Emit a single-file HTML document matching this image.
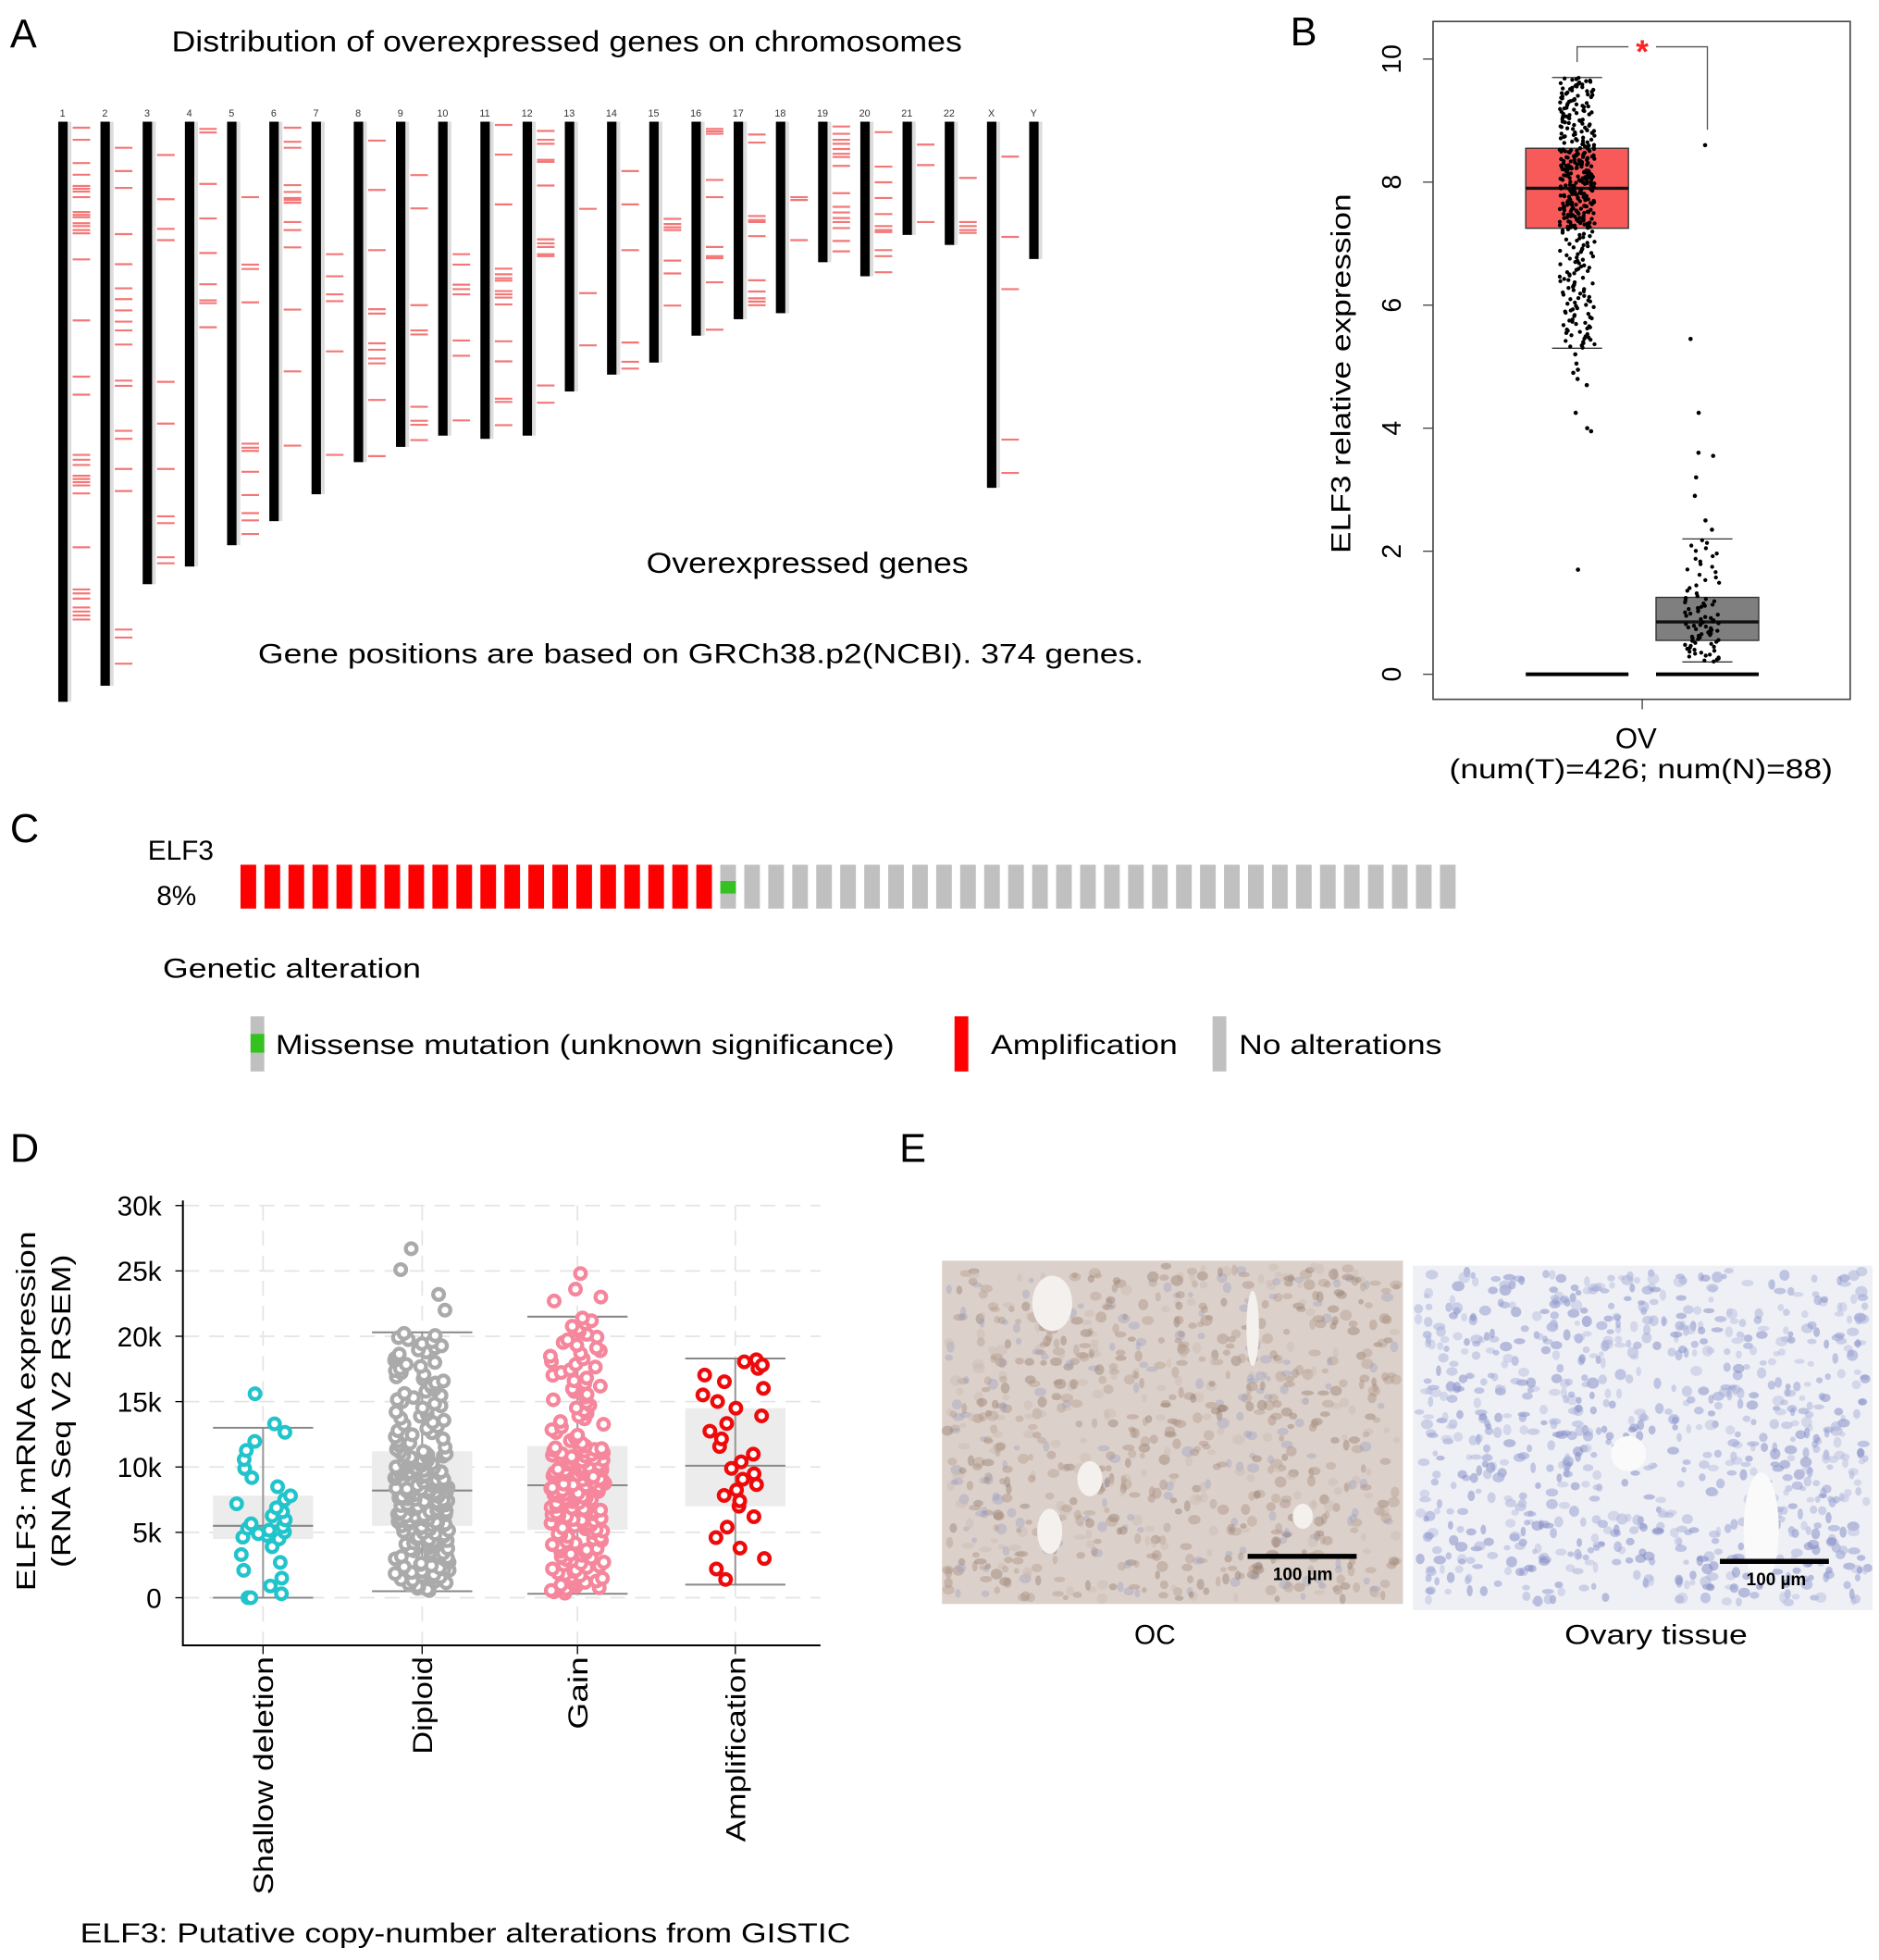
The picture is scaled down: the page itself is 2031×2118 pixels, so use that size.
<!DOCTYPE html>
<html><head><meta charset="utf-8"><style>
html,body{margin:0;padding:0;background:#fff;}
svg{display:block;font-family:"Liberation Sans",Arial,sans-serif;}
</style></head><body>
<svg id="fig" width="2031" height="2118" viewBox="0 0 1500 1564" xmlns="http://www.w3.org/2000/svg">
<g id="panelA">
<text x="8" y="38" font-size="32">A</text>
<text x="137" y="41" font-size="23" textLength="631" lengthAdjust="spacingAndGlyphs">Distribution of  overexpressed genes on chromosomes</text>
<text x="516" y="457" font-size="23" textLength="257" lengthAdjust="spacingAndGlyphs">Overexpressed genes</text>
<text x="206" y="529" font-size="22" textLength="707" lengthAdjust="spacingAndGlyphs">Gene positions are based on GRCh38.p2(NCBI). 374 genes.</text>
</g>
<g id="panelB">
<text x="1030" y="36" font-size="32">B</text>
<rect x="1144" y="17" width="333" height="541" fill="none" stroke="#444" stroke-width="1.2"/>
<text transform="translate(1078,298) rotate(-90)" text-anchor="middle" font-size="22" textLength="287" lengthAdjust="spacingAndGlyphs">ELF3 relative expression</text>
<text x="1306" y="597" text-anchor="middle" font-size="23">OV</text>
<text x="1310" y="621" text-anchor="middle" font-size="22" textLength="306" lengthAdjust="spacingAndGlyphs">(num(T)=426; num(N)=88)</text>
</g>
<g id="panelC">
<text x="8" y="672" font-size="32">C</text>
<text x="118" y="686" font-size="22">ELF3</text>
<text x="125" y="722" font-size="22">8%</text>
<text x="130" y="780" font-size="22" textLength="206" lengthAdjust="spacingAndGlyphs">Genetic alteration</text>
<g>
<rect x="200" y="811" width="11" height="44" fill="#c0c0c0"/><rect x="200" y="825" width="11" height="15" fill="#35c221"/>
<text x="220" y="841" font-size="22" textLength="494" lengthAdjust="spacingAndGlyphs">Missense mutation (unknown significance)</text></g>
<g>
<rect x="762" y="811" width="11" height="44" fill="#ff0000"/>
<text x="791" y="841" font-size="22" textLength="149" lengthAdjust="spacingAndGlyphs">Amplification</text></g>
<g>
<rect x="968" y="811" width="11" height="44" fill="#c0c0c0"/>
<text x="989" y="841" font-size="22" textLength="162" lengthAdjust="spacingAndGlyphs">No alterations</text></g>
</g>
<g id="panelD">
<text x="8" y="927" font-size="32">D</text>
<text transform="translate(28,1126) rotate(-90)" text-anchor="middle" font-size="21" textLength="287" lengthAdjust="spacingAndGlyphs">ELF3: mRNA expression</text>
<text transform="translate(56,1126) rotate(-90)" text-anchor="middle" font-size="21" textLength="250" lengthAdjust="spacingAndGlyphs">(RNA Seq V2 RSEM)</text>
<text x="64" y="1550" font-size="22" textLength="615" lengthAdjust="spacingAndGlyphs">ELF3: Putative copy-number alterations from GISTIC</text>
</g>
<g id="panelE">
<text x="718" y="927" font-size="32">E</text>
<text x="922" y="1312" text-anchor="middle" font-size="22">OC</text>
<text x="1322" y="1312" text-anchor="middle" font-size="22" textLength="146" lengthAdjust="spacingAndGlyphs">Ovary tissue</text>
</g>
</svg>
<script>
// ---------- Panel A data ----------
const chromNames = ["1","2","3","4","5","6","7","8","9","10","11","12","13","14","15","16","17","18","19","20","21","22","X","Y"];
const chromEnds = [1515,1475,1222,1178,1125,1065,998,918,880,852,860,852,742,700,670,603,562,547,420,455,352,377,982,412];
const geneLoci = [
[85,115,173,202,230,237,244,258,295,302,308,323,330,340,348,413,565,705,750,900,912,925,952,960,968,976,996,1130,1235,1245,1258,1280,1290,1300,1310],
[135,193,235,350,425,485,512,540,568,590,625,715,728,840,860,935,990,1335,1355,1420],
[153,263,337,365,718,822,935,1053,1070,1155,1170],
[88,97,225,311,397,475,515,522,582],
[258,426,437,520,872,882,890,942,1000,1045,1063,1097],
[85,120,135,228,245,260,265,272,320,340,383,538,692,877],
[400,455,500,517,642,900],
[117,240,390,537,548,622,638,660,672,763,903],
[203,286,527,590,600,780,815,825,863],
[400,426,476,487,500,615,653,814],
[78,152,276,436,450,460,466,492,500,508,525,617,667,760,768,826],
[93,115,125,165,170,229,363,373,382,400,405,727,770],
[287,497,627],
[193,276,390,620,668,685],
[312,325,333,340,416,448,528],
[88,94,100,215,258,382,405,410,470,588],
[102,122,305,315,320,355,465,493,510,518,527],
[258,265,365],
[82,100,115,125,138,150,158,180,248,282,296,310,320,335,367,393],
[96,182,221,260,300,330,340,345,390,405,445],
[127,178,320],
[210,320,330,340,347],
[157,357,487,862,945],
[]
];
// ---------- Panel B data ----------
const bGroups = ["Tumor","Normal"];
const bQ1 = [7.25, 0.55];
const bMed = [7.9, 0.85];
const bQ3 = [8.55, 1.25];
const bLo = [5.3, 0.2];
const bHi = [9.7, 2.2];
const bN = [426, 88];
const bOutliers = [[4.9,4.8,4.7,4.95,4.25,4.0,3.95,1.7,5.2,5.05],[8.6,5.45,4.25,3.6,3.55,3.2,2.9,2.5,2.35]];
const bTicks = [0,2,4,6,8,10];
// ---------- Panel C data ----------
const cAlterations = ["amp","amp","amp","amp","amp","amp","amp","amp","amp","amp","amp","amp","amp","amp","amp","amp","amp","amp","amp","amp","mut"].concat(Array(30).fill("none"));
// ---------- Panel D data ----------
const dCats = ["Shallow deletion","Diploid","Gain","Amplification"];
const dQ1 = [4500, 5500, 5200, 7000];
const dMed = [5500, 8200, 8600, 10100];
const dQ3 = [7800, 11200, 11600, 14500];
const dLo = [0, 500, 300, 1000];
const dHi = [13000, 20300, 21500, 18300];
const dN = [30, 230, 190, 30];
const dExtra = [[15600,13300,0,0],[26700,25100,23200,22000],[24800,23600,22700,23000],[18200,17800]];
const dTicks = [0,5000,10000,15000,20000,25000,30000];
const dTickLabels = ["0","5k","10k","15k","20k","25k","30k"];

const NS="http://www.w3.org/2000/svg";
const svg=document.getElementById('fig');
function mk(tag,attrs,parent){const e=document.createElementNS(NS,tag);for(const k in attrs)e.setAttribute(k,attrs[k]);(parent||svg).appendChild(e);return e;}
let seed=12345;function rnd(){seed=(seed*1103515245+12345)%2147483648;return seed/2147483648;}
function quant(q,p){const ps=[0,0.25,0.5,0.75,1];for(let i=0;i<4;i++){if(p<=ps[i+1]){const t=(p-ps[i])/0.25;return q[i]+(q[i+1]-q[i])*t;}}return q[4];}

// ---- Panel A draw ----
const gA=document.getElementById('panelA');
const chrX=i=>50+i*33.7;
const posY=v=>97+(v-70)*0.3204;
chromNames.forEach((n,i)=>{
  const x=chrX(i);
  const t=mk('text',{x:x,y:93,'font-size':8,'text-anchor':'middle',fill:'#333'},gA);t.textContent=n;
  
  
  const sh=mk('rect',{x:x+3,y:posY(70),width:4,height:posY(chromEnds[i])-posY(70),fill:'#ddd'},gA);
  
  
  const r=mk('rect',{x:x-3.5,y:posY(70),width:7.5,height:posY(chromEnds[i])-posY(70),fill:'#000'},gA);
  
  
  geneLoci[i].forEach(v=>{
    const l=mk('line',{x1:x+8,x2:x+22,y1:posY(v),y2:posY(v),stroke:'#f04a4a','stroke-width':1.6,opacity:0.75},gA);
    
    
  });
});

// ---- Panel B draw ----
const gB=document.getElementById('panelB');
const yB=v=>538-v*49.1;
const bCx=[1259,1363];
bTicks.forEach(v=>{
  const l=mk('line',{x1:1136,x2:1144,y1:yB(v),y2:yB(v),stroke:'#444'},gB);
  
  
  const t=mk('text',{transform:`translate(1118,${yB(v)}) rotate(-90)`,'text-anchor':'middle','font-size':21},gB);t.textContent=v;
  
  
});
mk('line',{x1:1311,x2:1311,y1:558,y2:566,stroke:'#444'},gB);
bGroups.forEach((g,i)=>{
  const cx=bCx[i],hw=41;
  const fill=i==0?'#f85a5a':'#7f7f7f';
  const z=mk('line',{x1:cx-41,x2:cx+41,y1:yB(0),y2:yB(0),stroke:'#000','stroke-width':3},gB);
  
  
  const b=mk('rect',{x:cx-hw,y:yB(bQ3[i]),width:hw*2,height:yB(bQ1[i])-yB(bQ3[i]),fill:fill,stroke:'#333','stroke-width':1},gB);
  
  
  const m=mk('line',{x1:cx-hw,x2:cx+hw,y1:yB(bMed[i]),y2:yB(bMed[i]),stroke:'#111','stroke-width':2.5},gB);
  
  
  [bLo[i],bHi[i]].forEach(v=>{
    const w=mk('line',{x1:cx-20,x2:cx+20,y1:yB(v),y2:yB(v),stroke:'#333','stroke-width':1},gB);
    
    
  });
  const jx=i==0?cx:cx-4;
  const q=[bLo[i],bQ1[i],bMed[i],bQ3[i],bHi[i]];
  for(let k=0;k<bN[i];k++){
    const v=quant(q,(k+0.5)/bN[i]);
    const c=mk('circle',{cx:jx-14+rnd()*28,cy:yB(v),r:1.6,fill:'#000'},gB);
    
    
  }
  bOutliers[i].forEach(v=>{
    const c=mk('circle',{cx:jx-10+rnd()*22,cy:yB(v),r:1.7,fill:'#000'},gB);
    
    
  });
});
const br=mk('path',{d:`M1259 ${yB(9.95)} V${yB(10.2)} H1300 M1322 ${yB(10.2)} H1363 V${yB(8.85)}`,fill:'none',stroke:'#555','stroke-width':1},gB);


const st=mk('text',{x:1311,y:yB(10.2)+13,'text-anchor':'middle','font-size':26,'font-weight':'bold',fill:'#f22'},gB);st.textContent='*';



// ---- Panel C draw ----
const gC=document.getElementById('panelC');
cAlterations.forEach((a,i)=>{
  const x=192+i*19.15;
  const r=mk('rect',{x:x,y:690,width:12.5,height:35,fill:a=='amp'?'#ff0000':'#c0c0c0'},gC);
  
  
  if(a=='mut'){const m=mk('rect',{x:x,y:703,width:12.5,height:10,fill:'#35c221'},gC);
    
    }
});

// ---- Panel D draw ----
const gD=document.getElementById('panelD');
const yD=v=>1275-v*0.010433;
const dX=[210,337,461,587];
const dCol=['#22c4cc','#aaaaaa','#f5869c','#ee0a0a'];
dTicks.forEach((v,i)=>{
  const g=mk('line',{x1:147,x2:655,y1:yD(v),y2:yD(v),stroke:'#e4e4e4','stroke-width':1.3,'stroke-dasharray':'12 8'},gD);
  
  
  const t=mk('text',{x:129,y:yD(v)+8,'text-anchor':'end','font-size':22},gD);t.textContent=dTickLabels[i];
  
  
  mk('line',{x1:140,x2:146,y1:yD(v),y2:yD(v),stroke:'#000'},gD);
});
dX.forEach(x=>mk('line',{x1:x,x2:x,y1:962,y2:1312,stroke:'#e4e4e4','stroke-width':1.3,'stroke-dasharray':'12 8'},gD));
const ax=mk('path',{d:'M146 958 V1313 H655',fill:'none',stroke:'#000','stroke-width':1.5},gD);


const labLen=[190,78,58,148];
dCats.forEach((c,i)=>{
  const cx=dX[i];
  mk('line',{x1:cx,x2:cx,y1:1313,y2:1320,stroke:'#000'},gD);
  const t=mk('text',{transform:`translate(${cx+8},1322) rotate(-90)`,'text-anchor':'end','font-size':22,textLength:labLen[i],lengthAdjust:'spacingAndGlyphs'},gD);t.textContent=c;
  
  
  const b=mk('rect',{x:cx-40,y:yD(dQ3[i]),width:80,height:yD(dQ1[i])-yD(dQ3[i]),fill:'#ececec'},gD);
  
  
  const wl=mk('line',{x1:cx,x2:cx,y1:yD(dHi[i]),y2:yD(dLo[i]),stroke:'#999','stroke-width':1.5},gD);
  
  
  [dLo[i],dHi[i],dMed[i]].forEach(v=>{
    const l=mk('line',{x1:cx-40,x2:cx+40,y1:yD(v),y2:yD(v),stroke:'#888','stroke-width':1.5},gD);
    
    
  });
  const q=[dLo[i],dQ1[i],dMed[i],dQ3[i],dHi[i]];
  const vals=[];for(let k=0;k<dN[i];k++)vals.push(quant(q,(k+0.5)/dN[i]));
  dExtra[i].forEach(v=>vals.push(v));
  vals.forEach(v=>{
    const jw=i==3?26:22;
    const p=mk('circle',{cx:cx-jw+rnd()*jw*2,cy:yD(v),r:4.3,fill:'#fff',stroke:dCol[i],'stroke-width':3.2},gD);
    
    
  });
});

// ---- Panel E textures ----
const gE=document.getElementById('panelE');
function tissue(x0,y0,w,h,bg,cells,name,op){
  const g=mk('g',{},gE);
  
  
  mk('rect',{x:x0,y:y0,width:w,height:h,fill:bg},g);
  for(let k=0;k<900;k++){
    const c=cells[Math.floor(rnd()*cells.length)];
    mk('ellipse',{cx:x0+4+rnd()*(w-8),cy:y0+4+rnd()*(h-8),rx:2+rnd()*3,ry:2+rnd()*2.5,fill:c,opacity:op},g);
  }
  return g;
}
const oc=tissue(752,1006,368,274,'#dcd0ca',['#a4897a','#8e7566','#b09888','#9aa0c0','#c9b8ae'],'oc-ihc-image',0.4);
[[840,1040,16,22],[870,1180,10,14],[1000,1060,5,30],[1040,1210,8,10],[838,1222,10,18]].forEach(a=>mk('ellipse',{cx:a[0],cy:a[1],rx:a[2],ry:a[3],fill:'#f4f0ee'},oc));
const ov=tissue(1128,1010,367,275,'#eef0f5',['#8e97cf','#7d86c4','#a6add8','#b9bde0'],'ovary-ihc-image',0.5);
[[1300,1160,14,14],[1406,1220,14,45]].forEach(a=>mk('ellipse',{cx:a[0],cy:a[1],rx:a[2],ry:a[3],fill:'#fafafa'},ov));
[[996,1242,1040,'oc'],[1373,1246,1418,'ovary']].forEach(s=>{
  const l=mk('line',{x1:s[0],x2:s[0]+87,y1:s[1],y2:s[1],stroke:'#000','stroke-width':4},gE);
  
  
  const t=mk('text',{x:s[2],y:s[1]+19,'text-anchor':'middle','font-size':14,'font-weight':'bold'},gE);t.textContent='100 µm';
  
  
});
</script>
</body></html>
